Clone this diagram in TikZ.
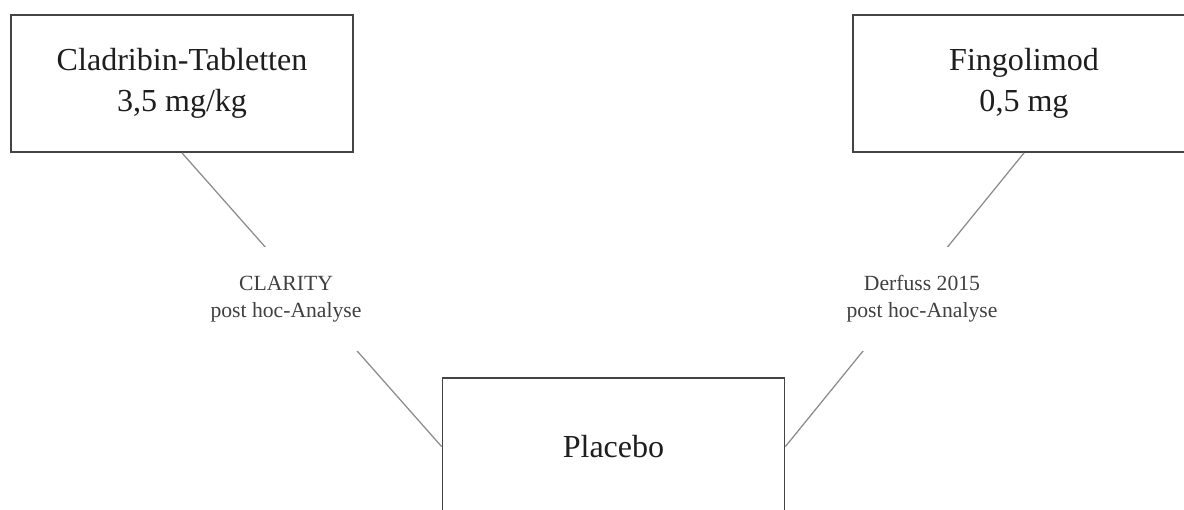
\documentclass[tikz,border=0pt]{standalone}
\usepackage{fontspec}
\setmainfont{Liberation Serif}
\usepackage{xcolor}
\usetikzlibrary{positioning,calc}
\definecolor{boxline}{HTML}{444444}
\definecolor{linkgray}{HTML}{8C8C8C}
\definecolor{txt}{HTML}{1E1E1E}
\tikzset{
  arm/.style      ={rectangle,draw=boxline,line width=1.3pt,fill=white,text=txt,
                    minimum width=8.55cm,minimum height=3.425cm,inner sep=0pt,align=center,
                    font=\fontsize{22.8}{29.2}\selectfont},
  studylabel/.style={rectangle,fill=white,text=txt!85,minimum width=6.15cm,minimum height=2.6cm,
                    inner sep=0pt,align=center,font=\fontsize{15.4}{19.2}\selectfont},
  link/.style     ={linkgray,line width=0.9pt},
}
\begin{document}
\begin{tikzpicture}
  \useasboundingbox (0,0) rectangle (29.6,-12.725);
  \node[arm] (clad)    at (4.55,-2.0875)   {Cladribin-Tabletten\\3,5 mg/kg};
  \node[arm] (fingo)   at (25.6,-2.0875)   {Fingolimod\\0,5 mg};
  \node[arm] (placebo) at (15.3375,-11.1625){Placebo};
  \draw[link] (clad.south)  -- (placebo.west);
  \draw[link] (fingo.south) -- (placebo.east);
  % study labels sit on top of the links
  \node[studylabel] (clarity) at (7.15,-7.475)  {CLARITY\\post hoc-Analyse};
  \node[studylabel] (derfuss) at (23.05,-7.475) {Derfuss 2015\\post hoc-Analyse};
\end{tikzpicture}
\end{document}
